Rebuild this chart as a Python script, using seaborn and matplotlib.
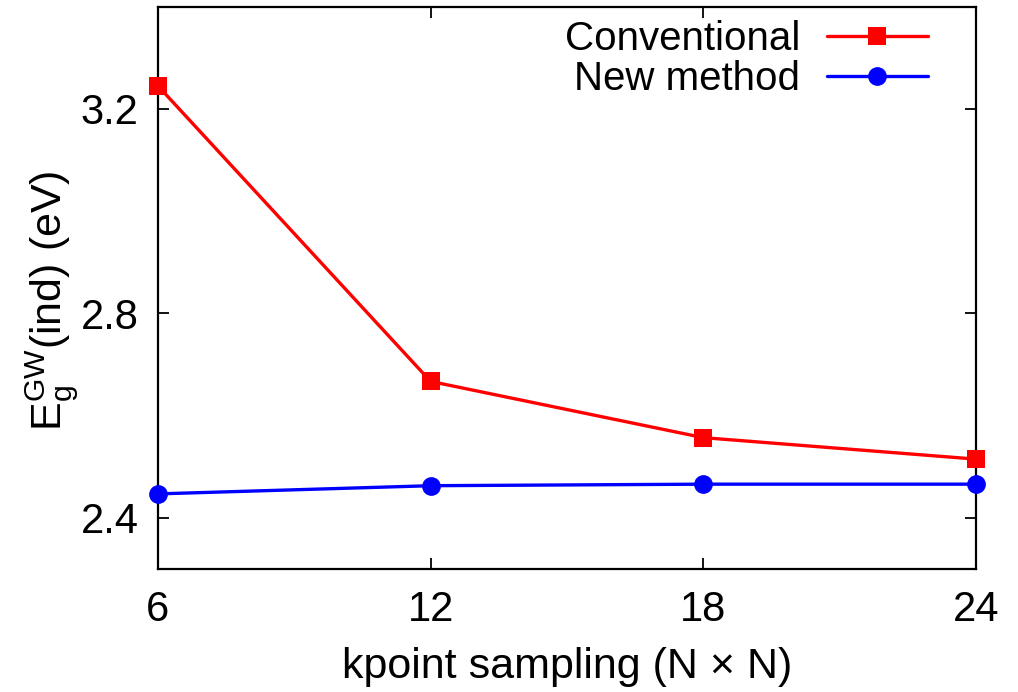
import matplotlib
matplotlib.use("Agg")
import matplotlib.pyplot as plt
import seaborn as sns
import pandas as pd

# k-point grid sizes (N for an N x N mesh)
kpoints = [6, 12, 18, 24]
# Indirect GW band gap (eV) for each method
conventional = [3.245, 2.667, 2.557, 2.515]
new_method = [2.447, 2.463, 2.466, 2.466]
series_names = ["Conventional", "New method"]
x_ticks = [6, 12, 18, 24]
y_ticks = [2.4, 2.8, 3.2]

df = pd.DataFrame({
    "k": kpoints * 2,
    "gap": conventional + new_method,
    "method": [series_names[0]] * len(kpoints) + [series_names[1]] * len(kpoints),
})

sns.set_style("ticks")
plt.rcParams["font.family"] = ["Liberation Sans", "DejaVu Sans"]
plt.rcParams["mathtext.fontset"] = "custom"
plt.rcParams["mathtext.rm"] = "Liberation Sans"
plt.rcParams["mathtext.it"] = "Liberation Sans"
plt.rcParams["text.color"] = "black"
plt.rcParams["axes.labelcolor"] = "black"

fig = plt.figure(figsize=(10.18, 6.92), dpi=100)
ax = fig.add_axes([0.1552, 0.1777, 0.8035, 0.8126])

sns.lineplot(
    data=df, x="k", y="gap", hue="method", style="method",
    palette={series_names[0]: "#ff0000", series_names[1]: "#0000ff"},
    markers={series_names[0]: "s", series_names[1]: "o"},
    dashes=False, markersize=13.5, markeredgewidth=0, linewidth=2.4,
    ax=ax, legend=True, clip_on=False, zorder=3,
)

ax.set_xlim(6, 24)
ax.set_ylim(2.3, 3.4)
ax.set_xticks(x_ticks)
ax.set_yticks(y_ticks)
ax.set_xticklabels([str(v) for v in x_ticks])
ax.set_yticklabels([f"{v:.1f}" for v in y_ticks])
ax.tick_params(direction="in", length=8, width=1.3, labelsize=30,
               top=True, right=True, colors="black", labelcolor="black")
ax.tick_params(axis="x", pad=15)
ax.tick_params(axis="y", pad=14)
for s in ax.spines.values():
    s.set_linewidth(1.6)
    s.set_color("black")

ax.set_xlabel("kpoint sampling (N \u00d7 N)", fontsize=31, labelpad=12)
ax.set_ylabel(r"$\mathregular{E_g^{GW}}$(ind) (eV)", fontsize=31, labelpad=0)
ax.yaxis.label.set_y(0.477)

handles, labels = ax.get_legend_handles_labels()
ax.legend(handles, labels, loc="upper right", frameon=False, fontsize=29,
          markerfirst=False, handlelength=2.5, handletextpad=0.67,
          labelspacing=0.05, borderaxespad=0.0, borderpad=0.0,
          bbox_to_anchor=(0.941, 0.976))

fig.savefig("out.png", dpi=100)
